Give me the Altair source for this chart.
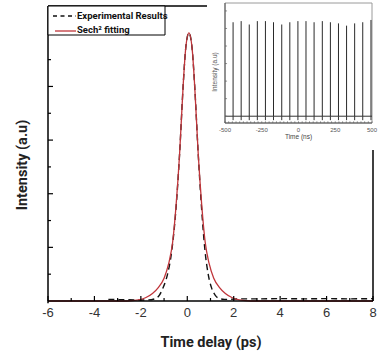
import altair as alt
import pandas as pd

# ---------------- data ----------------
# Sech^2 fitting (red)
fit_x = [-6.0, -2.6, -2.1, -1.8, -1.5, -1.25, -1.0, -0.8, -0.63, -0.48, -0.33, -0.18, -0.07, 0.07,
         0.21, 0.32, 0.47, 0.62, 0.77, 0.94, 1.14, 1.39, 1.64, 1.94, 2.24, 2.74, 8.0]
fit_y = [0.0, 0.0, 0.004, 0.012, 0.028, 0.05, 0.085, 0.14, 0.22, 0.36, 0.55, 0.80, 0.94, 1.0,
         0.94, 0.80, 0.55, 0.36, 0.22, 0.14, 0.085, 0.05, 0.028, 0.012, 0.004, 0.0, 0.0]
# Experimental results (black dashed)
exp_x = [-3.4, -2.8, -2.2, -1.7, -1.4, -1.2, -1.04, -0.85, -0.68, -0.5, -0.33, -0.18, -0.07, 0.07,
         0.21, 0.32, 0.47, 0.62, 0.76, 0.9, 1.05, 1.2, 1.35, 1.6, 2.0, 2.5, 3.0, 4.0, 5.0, 6.0, 7.0, 8.0]
exp_y = [0.006, 0.005, 0.004, 0.004, 0.008, 0.022, 0.05, 0.1, 0.18, 0.33, 0.55, 0.80, 0.94, 1.0,
         0.94, 0.80, 0.55, 0.34, 0.19, 0.1, 0.048, 0.022, 0.01, 0.006, 0.007, 0.008, 0.008, 0.009,
         0.008, 0.009, 0.008, 0.009]

x_major = [-6, -4, -2, 0, 2, 4, 6, 8]
x_major_labels = ["-6", "-4", "-2", "0", "2", "4", "6", "8"]
x_minor = [-5, -3, -1, 1, 3, 5, 7]
y_major = [0.2, 0.4, 0.6, 0.8, 1.0]
y_minor = [0.1, 0.3, 0.5, 0.7, 0.9]

x_title = "Time delay (ps)"
y_title = "Intensity (a.u)"
legend_labels = ["Experimental Results", "Sech\u00b2 fitting"]

# Inset: pulse train
pulse_t = [-445, -390, -335, -280, -225, -170, -114, -59, -4, 51, 106, 162, 217, 272, 327, 382, 437, 493]
pulse_h = [0.83, 0.84, 0.81, 0.84, 0.84, 0.83, 0.81, 0.83, 0.84, 0.84, 0.83, 0.84, 0.83, 0.82, 0.80,
           0.82, 0.83, 0.85]
inset_x_labels = [-500, -250, 0, 250, 500]
inset_x_label_text = ["-500", "-250", "0", "250", "500"]
inset_x_minor = list(range(-500, 501, 25))
inset_y_ticks = [0.0, 0.155, 0.31, 0.465, 0.62, 0.775, 0.93]
inset_x_title = "Time (ns)"
inset_y_title = "Intensity (a.u)"

# ---------------- styling ----------------
W, H = 325, 295
RED = "#c0353a"
BOLD = "Roboto"
SANS = "Liberation Sans"

xs = alt.Scale(domain=[-6, 8], nice=False, zero=False)
ys = alt.Scale(domain=[0, 1.1], nice=False, zero=False)


def X(f):
    return alt.X(f, scale=xs, axis=None)


def Y(f):
    return alt.Y(f, scale=ys, axis=None)


fit_df = pd.DataFrame({"x": fit_x, "y": fit_y})
exp_df = pd.DataFrame({"x": exp_x, "y": exp_y})

exp_line = alt.Chart(exp_df).mark_line(color="#111", strokeWidth=1.4, strokeDash=[6, 4],
                                       interpolate="monotone").encode(x=X("x:Q"), y=Y("y:Q"))
fit_line = alt.Chart(fit_df).mark_line(color=RED, strokeWidth=1.3, interpolate="monotone").encode(
    x=X("x:Q"), y=Y("y:Q"))

# axis lines (left & bottom) and partial frame (top and right)
frame_df = pd.DataFrame({
    "x": [-6.0, -6.0, -6.0, 8.0],
    "x2": [-6.0, 8.0, 0.85, 8.0],
    "y": [-0.008, 0.0, 1.1, 0.0],
    "y2": [1.1, 0.0, 1.1, 0.563],
})
frame_lines = alt.Chart(frame_df).mark_rule(color="black", strokeWidth=1.5).encode(
    x=X("x:Q"), x2="x2", y=Y("y:Q"), y2="y2")

xt_major = alt.Chart(pd.DataFrame({"x": x_major})).mark_rule(color="black", strokeWidth=1.2).encode(
    x=X("x:Q"), y=alt.value(H), y2=alt.value(H - 5))
xt_minor = alt.Chart(pd.DataFrame({"x": x_minor})).mark_rule(color="black", strokeWidth=1.2).encode(
    x=X("x:Q"), y=alt.value(H), y2=alt.value(H - 3))
yt_major = alt.Chart(pd.DataFrame({"y": y_major})).mark_rule(color="black", strokeWidth=1.2).encode(
    y=Y("y:Q"), x=alt.value(0), x2=alt.value(5))
yt_minor = alt.Chart(pd.DataFrame({"y": y_minor})).mark_rule(color="black", strokeWidth=1.2).encode(
    y=Y("y:Q"), x=alt.value(0), x2=alt.value(3))

x_labels = alt.Chart(pd.DataFrame({"x": x_major, "t": x_major_labels})).mark_text(
    baseline="middle", align="center", font=SANS, fontSize=13, color="#333").encode(
    x=X("x:Q"), y=alt.value(H + 12), text="t:N")

one = pd.DataFrame({"a": [0]})
x_title_mark = alt.Chart(one).mark_text(baseline="middle", align="center", font=BOLD, fontSize=14.5,
                                        fontWeight="bold", color="#222").encode(
    x=alt.value(163), y=alt.value(337), text=alt.value(x_title))
y_title_mark = alt.Chart(one).mark_text(baseline="middle", align="center", font=BOLD, fontSize=14.5,
                                        fontWeight="bold", color="#222", angle=270).encode(
    x=alt.value(-25), y=alt.value(159), text=alt.value(y_title))

# legend box (top-left corner)
leg_box = alt.Chart(one).mark_rect(fill="white", stroke="black", strokeWidth=1).encode(
    x=alt.value(0), x2=alt.value(117), y=alt.value(0), y2=alt.value(29))
leg_dash = alt.Chart(one).mark_rule(color="#111", strokeWidth=1.3, strokeDash=[4, 3.5]).encode(
    x=alt.value(5), x2=alt.value(28), y=alt.value(10))
leg_red = alt.Chart(one).mark_rule(color=RED, strokeWidth=1.3).encode(
    x=alt.value(7), x2=alt.value(28), y=alt.value(25))
leg_t1 = alt.Chart(one).mark_text(align="left", baseline="middle", font=BOLD, fontSize=9.5,
                                  fontWeight="bold", color="#111").encode(
    x=alt.value(29), y=alt.value(10), text=alt.value(legend_labels[0]))
leg_t2 = alt.Chart(one).mark_text(align="left", baseline="middle", font=BOLD, fontSize=9.5,
                                  fontWeight="bold", color="#111").encode(
    x=alt.value(29), y=alt.value(24), text=alt.value(legend_labels[1]))

main = alt.layer(exp_line, fit_line, frame_lines, xt_major, xt_minor, yt_major, yt_minor,
                 x_labels, x_title_mark, y_title_mark,
                 leg_box, leg_dash, leg_red, leg_t1, leg_t2)

# ---------------- inset ----------------
ixs = alt.Scale(domain=[-500, 500], range=[177, 324], nice=False, zero=False)
iys = alt.Scale(domain=[-0.06, 1.0], range=[117, -3], nice=False, zero=False)


def IX(f):
    return alt.X(f, scale=ixs, axis=None)


def IY(f):
    return alt.Y(f, scale=iys, axis=None)


frame = alt.Chart(pd.DataFrame({"x": [-500], "x2": [500], "y": [-0.06], "y2": [1.0]})).mark_rect(
    fill="white", stroke="#9a9a9a", strokeWidth=1).encode(x=IX("x:Q"), x2="x2", y=IY("y:Q"), y2="y2")

iaxes = alt.Chart(pd.DataFrame({"x": [-500, -500], "x2": [500, -500], "y": [-0.06, -0.06],
                                "y2": [-0.06, 1.0]})).mark_rule(color="#555", strokeWidth=1).encode(
    x=IX("x:Q"), x2="x2", y=IY("y:Q"), y2="y2")

base_df = pd.DataFrame({"x": [-500], "x2": [500], "y": [0.0]})
baseline = alt.Chart(base_df).mark_rule(color="#333", strokeWidth=1).encode(
    x=IX("x:Q"), x2="x2", y=IY("y:Q"))

pulse_df = pd.DataFrame({"t": pulse_t, "h": pulse_h, "z": [0.0] * len(pulse_t),
                         "d": [-0.035] * len(pulse_t)})
spikes = alt.Chart(pulse_df).mark_rule(color="#2a2a2a", strokeWidth=1).encode(
    x=IX("t:Q"), y=IY("z:Q"), y2="h")
dips = alt.Chart(pulse_df).mark_rule(color="#333", strokeWidth=1).encode(
    x=IX("t:Q"), y=IY("z:Q"), y2="d")

iminor_df = pd.DataFrame({"x": inset_x_minor, "y": [-0.06] * len(inset_x_minor),
                          "y2": [-0.045] * len(inset_x_minor)})
iminor = alt.Chart(iminor_df).mark_rule(color="#777", strokeWidth=0.8).encode(
    x=IX("x:Q"), y=IY("y:Q"), y2="y2")

iyt_df = pd.DataFrame({"y": inset_y_ticks, "x": [-500] * len(inset_y_ticks),
                       "x2": [-486] * len(inset_y_ticks)})
iyt = alt.Chart(iyt_df).mark_rule(color="#777", strokeWidth=0.8).encode(
    x=IX("x:Q"), x2="x2", y=IY("y:Q"))

ixlab = alt.Chart(pd.DataFrame({"x": inset_x_labels, "t": inset_x_label_text})).mark_text(
    baseline="middle", align="center", font=SANS, fontSize=6, color="#555").encode(
    x=IX("x:Q"), y=alt.value(124), text="t:N")
ixtitle = alt.Chart(pd.DataFrame({"x": [0]})).mark_text(
    baseline="middle", align="center", font=SANS, fontSize=6.5, color="#444").encode(
    x=IX("x:Q"), y=alt.value(131), text=alt.value(inset_x_title))
iytitle = alt.Chart(one).mark_text(angle=270, align="center", baseline="middle", font=SANS,
                                   fontSize=6.5, color="#555").encode(
    x=alt.value(167), y=alt.value(66), text=alt.value(inset_y_title))

inset = alt.layer(frame, baseline, spikes, dips, iminor, iyt, iaxes, ixlab, ixtitle, iytitle)

chart = alt.layer(main, inset).resolve_scale(x="independent", y="independent").properties(
    width=W, height=H,
    padding={"left": 48, "top": 6, "right": 7, "bottom": 52},
    autosize=alt.AutoSizeParams(type="none"),
    background="white",
).configure_view(stroke=None)

chart.save("out.html", embed_options={"renderer": "svg", "actions": False})
